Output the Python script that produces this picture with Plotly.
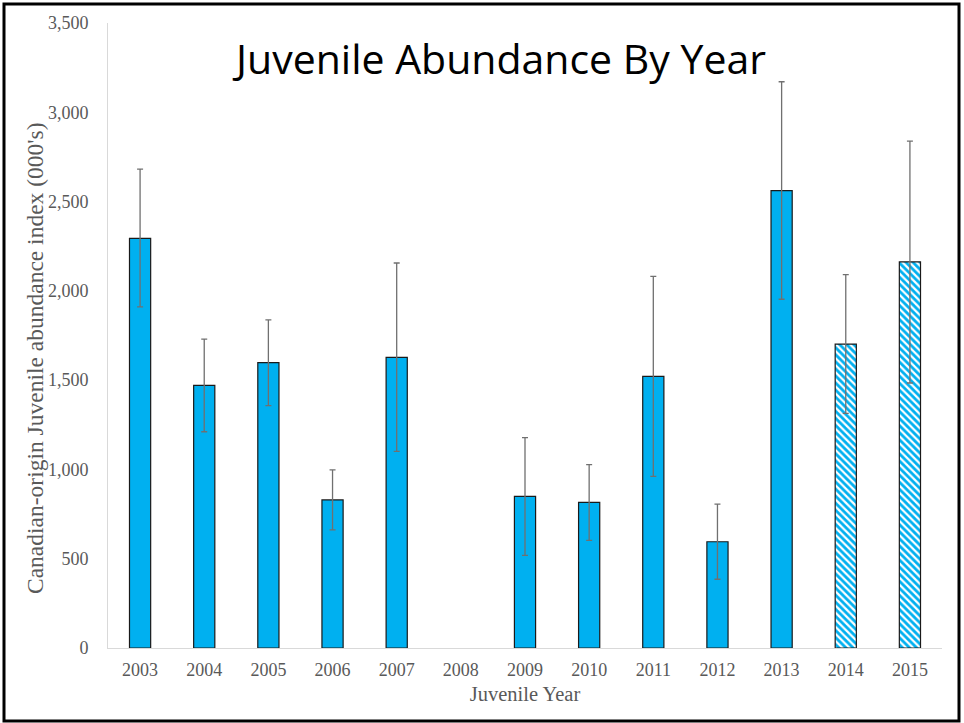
import plotly.graph_objects as go

years = ["2003", "2004", "2005", "2006", "2007", "2008", "2009",
         "2010", "2011", "2012", "2013", "2014", "2015"]
abundance = [2294, 1471, 1598, 829, 1628, None, 849, 816, 1521, 595, 2561, 1702, 2162]
upper = [2682, 1730, 1837, 997, 2156, None, 1178, 1027, 2081, 806, 3171, 2091, 2839]
lower = [1910, 1211, 1357, 661, 1101, None, 519, 603, 961, 385, 1953, 1314, 1484]
projected = ["2014", "2015"]

W, H = 964, 723
L, R, T, B = 108, 22, 23, 75
pw, ph = W - L - R, H - T - B

def px(x):
    return (x - L) / pw

def py(y):
    return (H - B - y) / ph

err_plus = [None if v is None else u - v for v, u in zip(abundance, upper)]
err_minus = [None if v is None else v - lo for v, lo in zip(abundance, lower)]

blue = "#00B0F0"
shapes_pat = ["\\" if y in projected else "" for y in years]

fig = go.Figure()
fig.add_trace(go.Bar(
    x=years, y=abundance, width=0.33,
    marker=dict(
        color=blue,
        line=dict(color="#1a1a1a", width=1.2),
        pattern=dict(shape=shapes_pat, fgcolor=blue, bgcolor="white",
                     size=5, solidity=0.55, fillmode="replace"),
    ),
    error_y=dict(type="data", symmetric=False, array=err_plus, arrayminus=err_minus,
                 color="#707070", thickness=1.3, width=3),
    showlegend=False,
))

fig.update_layout(
    width=W, height=H,
    margin=dict(l=L, r=R, t=T, b=B),
    paper_bgcolor="white", plot_bgcolor="white",
    font=dict(family="Liberation Serif", color="#595959", size=18),
    bargap=0.67,
)
fig.update_yaxes(
    range=[0, 3500], dtick=500, tickformat=",", showgrid=False,
    showline=True, linecolor="#d9d9d9", linewidth=1, zeroline=False,
    ticks="", ticklabelstandoff=15,
    tickfont=dict(family="Liberation Serif", size=18, color="#595959"),
)
fig.update_xaxes(
    showline=True, linecolor="#d9d9d9", linewidth=1, showgrid=False,
    ticks="", ticklabelstandoff=5,
    tickfont=dict(family="Liberation Serif", size=18, color="#595959"),
    title=dict(text="Juvenile Year",
               font=dict(family="Liberation Serif", size=20.5, color="#595959"), standoff=8),
)

fig.add_annotation(
    text="Canadian-origin Juvenile abundance index (000's)", textangle=-90,
    xref="paper", yref="paper", x=px(35), y=py(359),
    xanchor="center", yanchor="middle", showarrow=False,
    font=dict(family="Liberation Serif", size=23.5, color="#595959"),
)

fig.add_annotation(
    text="Juvenile Abundance By Year", xref="paper", yref="paper",
    x=px(499), y=py(58), xanchor="center", yanchor="middle", showarrow=False,
    font=dict(family="Open Sans", size=41, color="#000000"),
)

fig.add_shape(type="rect", xref="paper", yref="paper",
              x0=px(4), x1=px(959), y0=py(721), y1=py(4),
              line=dict(color="#000000", width=3), layer="above")

fig.write_html("out.html", config={"displayModeBar": False},
               post_script="document.body.style.margin='0';")
